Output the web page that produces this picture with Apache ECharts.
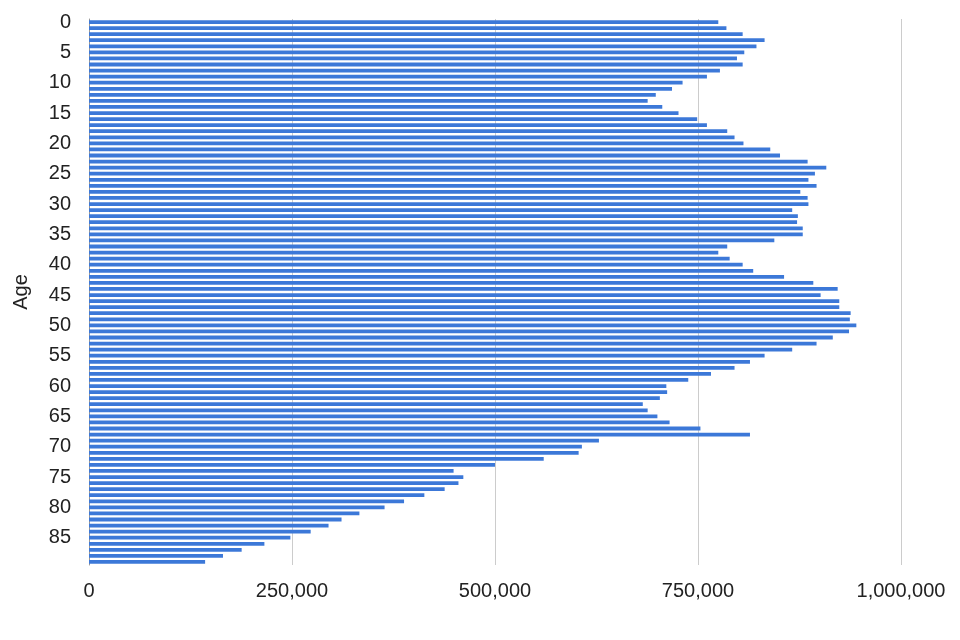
<!DOCTYPE html>
<html lang="en">
<head>
    <meta charset="UTF-8">
    <title>Age</title>
</head>
<body style="margin:0;background:#fff">
<div id="container" style="width:960px;height:640px"></div>
<script type="text/javascript" src="https://cdn.jsdelivr.net/npm/echarts@6/dist/echarts.min.js"></script>
<script type="text/javascript">
    // ages 0..89
    var ages = [];
    for (var i = 0; i < 90; i++) ages.push(String(i));

    // population per age
    var population = [
        775000, 785000, 805000, 832000, 822000, 807000, 798000, 805000, 777000, 761000,
        731000, 718000, 698000, 688000, 706000, 726000, 749000, 761000, 786000, 795000,
        806000, 839000, 851000, 885000, 908000, 894000, 886000, 896000, 876000, 885000,
        886000, 866000, 873000, 872000, 879000, 879000, 844000, 786000, 775000, 789000,
        805000, 818000, 856000, 892000, 922000, 901000, 924000, 924000, 938000, 937000,
        945000, 936000, 916000, 896000, 866000, 832000, 814000, 795000, 766000, 738000,
        711000, 712000, 703000, 682000, 688000, 700000, 715000, 753000, 814000, 628000,
        607000, 603000, 560000, 500000, 449000, 461000, 455000, 438000, 413000, 388000,
        364000, 333000, 311000, 295000, 273000, 248000, 216000, 188000, 165000, 143000
    ];

    var xTicks = [0, 250000, 500000, 750000, 1000000];

    var myChart = echarts.init(document.getElementById('container'));

    var option = {
        animation: false,
        textStyle: {fontFamily: 'Liberation Sans, Arial, sans-serif'},
        grid: {left: 89, right: 59, top: 19, bottom: 75, containLabel: false},
        xAxis: {
            type: 'value',
            min: xTicks[0],
            max: xTicks[xTicks.length - 1],
            interval: xTicks[1] - xTicks[0],
            axisLine: {show: false},
            axisTick: {show: false},
            splitLine: {lineStyle: {color: '#cccccc', width: 1}},
            axisLabel: {
                color: '#222',
                fontSize: 20,
                margin: 16,
                formatter: function (v) { return echarts.format.addCommas(v); }
            }
        },
        yAxis: {
            type: 'category',
            inverse: true,
            data: ages,
            name: 'Age',
            nameLocation: 'middle',
            nameGap: 58,
            nameTextStyle: {color: '#222', fontSize: 20},
            axisLine: {lineStyle: {color: '#999', width: 1}},
            axisTick: {show: false},
            axisLabel: {interval: 4, color: '#222', fontSize: 20, margin: 18}
        },
        series: [{
            type: 'bar',
            data: population,
            barCategoryGap: '38%',
            itemStyle: {color: '#3c78d8'}
        }]
    };

    myChart.setOption(option);
</script>
</body>
</html>
